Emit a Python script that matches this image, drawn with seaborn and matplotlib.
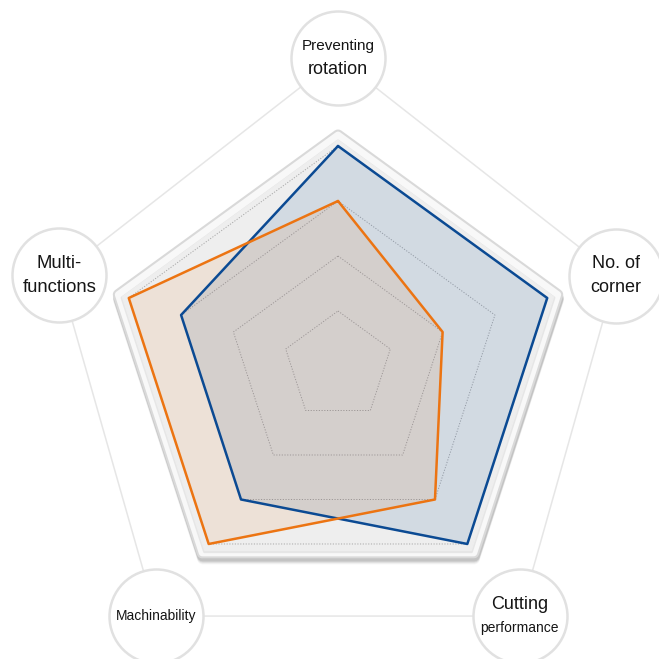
import numpy as np
import pandas as pd
import matplotlib
matplotlib.use('Agg')
import matplotlib.pyplot as plt
import matplotlib.transforms as mtransforms
import seaborn as sns

# Dane wykresu radarowego
categories = ['Preventing\nrotation', 'No. of\ncorner', 'Cutting\nperformance',
              'Machinability', 'Multi-\nfunctions']
series_names = ['Blue type', 'Orange type']
blue_scores = [4, 4, 4, 3, 3]
orange_scores = [3, 2, 3, 4, 4]
grid_levels = [1, 2, 3, 4]

sns.set_theme(style='white')
plt.rcParams['font.family'] = ['Liberation Sans', 'DejaVu Sans']

BLUE = '#0b4a93'
ORANGE = '#ec7412'

n = len(categories)
theta = np.linspace(0, 2 * np.pi, n, endpoint=False)


def closed(v):
    v = np.asarray(v, dtype=float)
    return np.append(v, v[0])


theta_c = closed(theta)

fig = plt.figure(figsize=(6.59, 6.59), dpi=100)
# srodek wykresu ~ (338, 366) px, 1 poziom = 55 px
ax = fig.add_axes([63 / 659, 18 / 659, 550 / 659, 550 / 659], projection='polar')
ax.set_theta_offset(np.pi / 2)
ax.set_theta_direction(-1)
ax.set_ylim(0, 5)
ax.axis('off')


def shifted(dx, dy):
    return mtransforms.offset_copy(ax.transData, fig=fig, x=dx, y=dy, units='dots')


def ring(r):
    return [r] * (n + 1)


# Ramka (szara obwodka z cieniem)
rim_r = 4.2
for dy, a in [(-6, 0.05), (-5, 0.08), (-4, 0.12), (-3, 0.15)]:
    ax.fill(theta_c, ring(rim_r), color='#555555', alpha=a, ec='#555555', lw=8,
            joinstyle='round', transform=shifted(0.5, dy), zorder=0.5, clip_on=False)
ax.fill(theta_c, ring(rim_r), fc='#d9d9d9', ec='#d9d9d9', lw=8,
        joinstyle='round', zorder=0.6, clip_on=False)
ax.fill(theta_c, ring(rim_r), fc='#f8f8f8', ec='#f8f8f8', lw=5,
        joinstyle='round', zorder=0.62, clip_on=False)
ax.fill(theta_c, ring(4.13), fc='#e6e6e6', ec='#e6e6e6', lw=2,
        joinstyle='round', transform=shifted(0, -2), zorder=0.65, clip_on=False)
ax.fill(theta_c, ring(4.12), fc='#eeeeee', ec='#eeeeee', lw=1,
        joinstyle='round', transform=shifted(0, -1), zorder=0.7, clip_on=False)

# Siatka kropkowana
for lvl in grid_levels:
    ax.plot(theta_c, ring(lvl), color='#a8a8a8', lw=0.7,
            ls=(0, (1.2, 1.6)), zorder=1)

# Wypelnienia
ax.fill(theta_c, closed(blue_scores), color=BLUE, alpha=0.12, lw=0, zorder=2)
ax.fill(theta_c, closed(orange_scores), color=ORANGE, alpha=0.1, lw=0, zorder=2.1)

# Linie serii
df = pd.DataFrame({
    'theta': np.concatenate([theta_c, theta_c]),
    'score': np.concatenate([closed(blue_scores), closed(orange_scores)]),
    'series': [series_names[0]] * (n + 1) + [series_names[1]] * (n + 1),
})
sns.lineplot(data=df, x='theta', y='score', hue='series', palette=[BLUE, ORANGE],
             sort=False, estimator=None, legend=False, ax=ax, linewidth=1.8,
             solid_joinstyle='round', zorder=2.5)
ax.set_xlabel('')
ax.set_ylabel('')

# Etykiety w kolkach
label_r = [5.6, 5.31, 5.62, 5.62, 5.33]
ax.plot(theta_c, closed(label_r), color='#e6e6e6', lw=1.1, zorder=0.3, clip_on=False)
ax.scatter(theta, label_r, s=4580, facecolor='white', edgecolor='#e1e1e1',
           linewidth=1.8, zorder=3, clip_on=False)

line_sizes = [[11, 13], [13, 13], [13, 10], [10], [13.3, 13.3]]
for t, r, lab, sizes in zip(theta, label_r, categories, line_sizes):
    lines = lab.split('\n')
    offs = [0] if len(lines) == 1 else [12, -12]
    for line, fs, dy in zip(lines, sizes, offs):
        ax.annotate(line, xy=(t, r), xytext=(0, dy), textcoords='offset pixels',
                    ha='center', va='center', fontsize=fs, color='#151515',
                    zorder=4, annotation_clip=False)

fig.savefig('out.png', dpi=100)
